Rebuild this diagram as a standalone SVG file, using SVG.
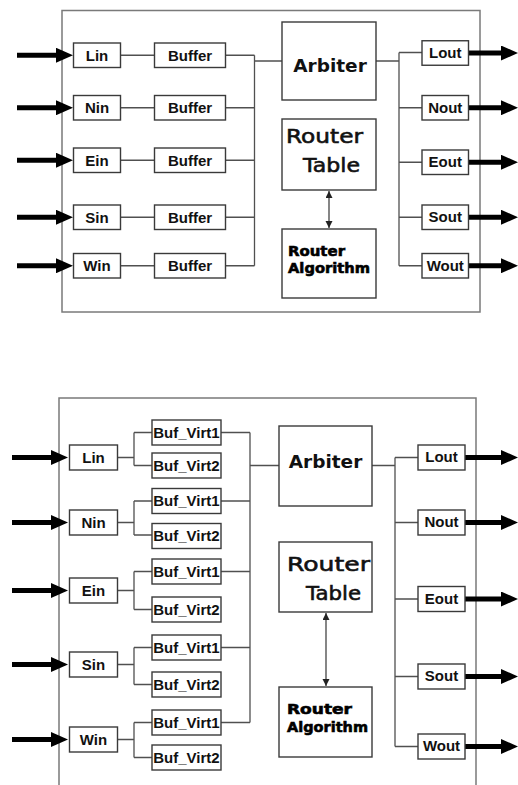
<svg xmlns="http://www.w3.org/2000/svg" width="518" height="785" viewBox="0 0 518 785">
<style>
.frame{fill:none;stroke:#7a7a7a;stroke-width:1.5}
.box{fill:#fff;stroke:#3a3a3a;stroke-width:1.4}
.ln{fill:none;stroke:#505050;stroke-width:1.3}
.big{fill:none;stroke:#000;stroke-width:5}
.dbl{fill:none;stroke:#444;stroke-width:1.3}
.lbl{font-family:"Liberation Sans",Arial,sans-serif;font-weight:bold;font-size:15px;fill:#111;text-anchor:middle}
.arb{font-family:"DejaVu Sans",sans-serif;font-weight:bold;font-size:18.5px;fill:#111;text-anchor:middle}
.rt{font-family:"DejaVu Sans",sans-serif;font-size:20px;fill:#111;stroke:#111;stroke-width:0.6}
.ra{font-family:"DejaVu Sans",sans-serif;font-weight:bold;font-size:14px;fill:#000;stroke:#000;stroke-width:0.6}
</style>
<defs>
<marker id="head" markerUnits="userSpaceOnUse" markerWidth="17" markerHeight="15" viewBox="0 0 17 15" refX="0" refY="7.5" orient="auto"><path d="M0,0 L17,7.5 L0,15 z" fill="#000"/></marker>
<marker id="sm" markerUnits="userSpaceOnUse" markerWidth="7" markerHeight="8" viewBox="0 0 7 8" refX="7" refY="3.5" orient="auto-start-reverse"><path d="M0,0 L7,3.5 L0,7 z" fill="#222"/></marker>
</defs>

<rect class="frame" x="62" y="10.5" width="418" height="301.5"/>
<path class="frame" d="M59,785 V398 H476 V785"/>

<g id="connectors">
<line class="big" x1="17" y1="55.25" x2="56" y2="55.25" marker-end="url(#head)"/>
<line class="big" x1="17" y1="107.75" x2="56" y2="107.75" marker-end="url(#head)"/>
<line class="big" x1="17" y1="160.25" x2="56" y2="160.25" marker-end="url(#head)"/>
<line class="big" x1="17" y1="217.25" x2="56" y2="217.25" marker-end="url(#head)"/>
<line class="big" x1="17" y1="265.75" x2="56" y2="265.75" marker-end="url(#head)"/>
<path class="ln" d="M120.5,55.25H154.5M120.5,107.75H154.5M120.5,160.25H154.5M120.5,217.25H154.5M120.5,265.75H154.5"/>
<path class="ln" d="M225.5,55.25H254.5M225.5,107.75H254.5M225.5,160.25H254.5M225.5,217.25H254.5M225.5,265.75H254.5M254.5,55.25V265.75M254.5,61H282"/>
<line class="dbl" x1="329" y1="191" x2="329" y2="228" marker-start="url(#sm)" marker-end="url(#sm)"/>
<path class="ln" d="M376,61H399M399,52.5V265.75M399,52.5H422M399,107.75H422M399,162.25H422M399,217.25H422M399,265.75H422"/>
<line class="big" x1="468.5" y1="53" x2="501" y2="53" marker-end="url(#head)"/>
<line class="big" x1="468.5" y1="107.75" x2="501" y2="107.75" marker-end="url(#head)"/>
<line class="big" x1="468.5" y1="162.25" x2="501" y2="162.25" marker-end="url(#head)"/>
<line class="big" x1="468.5" y1="217.25" x2="501" y2="217.25" marker-end="url(#head)"/>
<line class="big" x1="468.5" y1="265.75" x2="501" y2="265.75" marker-end="url(#head)"/>

<line class="big" x1="12" y1="457.5" x2="51" y2="457.5" marker-end="url(#head)"/>
<line class="big" x1="12" y1="522.5" x2="51" y2="522.5" marker-end="url(#head)"/>
<line class="big" x1="12" y1="590.5" x2="51" y2="590.5" marker-end="url(#head)"/>
<line class="big" x1="12" y1="664.5" x2="51" y2="664.5" marker-end="url(#head)"/>
<line class="big" x1="12" y1="739.5" x2="51" y2="739.5" marker-end="url(#head)"/>
<path class="ln" d="M117.5,457.5H134M134,432.5V465.5M134,432.5H152M134,465.5H152"/>
<path class="ln" d="M117.5,522.5H134M134,501V535M134,501H152M134,535H152"/>
<path class="ln" d="M117.5,590.5H134M134,571.5V609.5M134,571.5H152M134,609.5H152"/>
<path class="ln" d="M117.5,664.5H134M134,647.5V684.5M134,647.5H152M134,684.5H152"/>
<path class="ln" d="M117.5,739.5H134M134,722.5V757.5M134,722.5H152M134,757.5H152"/>
<path class="ln" d="M221,432.5H250M221,501H250M221,571.5H250M221,647.5H250M221,722.5H250M250,432.5V722.5M250,465.5H279"/>
<line class="dbl" x1="326" y1="613" x2="326" y2="686" marker-start="url(#sm)" marker-end="url(#sm)"/>
<path class="ln" d="M372,465.5H395M395,457.5V746.5M395,457.5H418M395,522.5H418M395,599H418M395,676.5H418M395,746.5H418"/>
<line class="big" x1="465" y1="457.5" x2="501" y2="457.5" marker-end="url(#head)"/>
<line class="big" x1="465" y1="522.5" x2="501" y2="522.5" marker-end="url(#head)"/>
<line class="big" x1="465" y1="599" x2="501" y2="599" marker-end="url(#head)"/>
<line class="big" x1="465" y1="676.5" x2="501" y2="676.5" marker-end="url(#head)"/>
<line class="big" x1="465" y1="746.5" x2="501" y2="746.5" marker-end="url(#head)"/>
</g>

<g id="t_lin"><rect class="box" x="73.5" y="43" width="47" height="24.5"/><text class="lbl" x="97" y="60.5">Lin</text></g>
<g id="t_nin"><rect class="box" x="73.5" y="95.5" width="47" height="24.5"/><text class="lbl" x="97" y="113">Nin</text></g>
<g id="t_ein"><rect class="box" x="73.5" y="148" width="47" height="24.5"/><text class="lbl" x="97" y="165.5">Ein</text></g>
<g id="t_sin"><rect class="box" x="73.5" y="205" width="47" height="24.5"/><text class="lbl" x="97" y="222.5">Sin</text></g>
<g id="t_win"><rect class="box" x="73.5" y="253.5" width="47" height="24.5"/><text class="lbl" x="97" y="271">Win</text></g>
<g id="t_buf1"><rect class="box" x="154.5" y="43" width="71" height="24.5"/><text class="lbl" x="190" y="60.5">Buffer</text></g>
<g id="t_buf2"><rect class="box" x="154.5" y="95.5" width="71" height="24.5"/><text class="lbl" x="190" y="113">Buffer</text></g>
<g id="t_buf3"><rect class="box" x="154.5" y="148" width="71" height="24.5"/><text class="lbl" x="190" y="165.5">Buffer</text></g>
<g id="t_buf4"><rect class="box" x="154.5" y="205" width="71" height="24.5"/><text class="lbl" x="190" y="222.5">Buffer</text></g>
<g id="t_buf5"><rect class="box" x="154.5" y="253.5" width="71" height="24.5"/><text class="lbl" x="190" y="271">Buffer</text></g>
<g id="t_arbiter"><rect class="box" x="282" y="22" width="94" height="78"/><text class="arb" x="330" y="71.5">Arbiter</text></g>
<g id="t_table"><rect class="box" x="282" y="119" width="94" height="71"/><text class="rt" x="286" y="143" textLength="77" lengthAdjust="spacingAndGlyphs">Router</text><text class="rt" x="303" y="171.5" textLength="57" lengthAdjust="spacingAndGlyphs">Table</text></g>
<g id="t_algo"><rect class="box" x="282" y="229" width="94" height="69"/><text class="ra" x="288" y="256" textLength="57" lengthAdjust="spacingAndGlyphs">Router</text><text class="ra" x="288" y="272.5" textLength="82" lengthAdjust="spacingAndGlyphs">Algorithm</text></g>
<g id="t_lout"><rect class="box" x="422" y="40.75" width="46.5" height="24.5"/><text class="lbl" x="445.25" y="57.5">Lout</text></g>
<g id="t_nout"><rect class="box" x="422" y="95.5" width="46.5" height="24.5"/><text class="lbl" x="445.25" y="112.5">Nout</text></g>
<g id="t_eout"><rect class="box" x="422" y="150" width="46.5" height="24.5"/><text class="lbl" x="445.25" y="167">Eout</text></g>
<g id="t_sout"><rect class="box" x="422" y="205" width="46.5" height="24.5"/><text class="lbl" x="445.25" y="222">Sout</text></g>
<g id="t_wout"><rect class="box" x="422" y="253.5" width="46.5" height="24.5"/><text class="lbl" x="445.25" y="270.5">Wout</text></g>

<g id="b_lin"><rect class="box" x="69.5" y="445" width="48" height="25"/><text class="lbl" x="93.5" y="462.5">Lin</text></g>
<g id="b_nin"><rect class="box" x="69.5" y="510" width="48" height="25"/><text class="lbl" x="93.5" y="527.5">Nin</text></g>
<g id="b_ein"><rect class="box" x="69.5" y="578" width="48" height="25"/><text class="lbl" x="93.5" y="595.5">Ein</text></g>
<g id="b_sin"><rect class="box" x="69.5" y="652" width="48" height="25"/><text class="lbl" x="93.5" y="669.5">Sin</text></g>
<g id="b_win"><rect class="box" x="69.5" y="727" width="48" height="25"/><text class="lbl" x="93.5" y="744.5">Win</text></g>
<g id="b_l_v1"><rect class="box" x="152" y="420" width="69" height="25"/><text class="lbl" x="186.5" y="437.5">Buf_Virt1</text></g>
<g id="b_l_v2"><rect class="box" x="152" y="453" width="69" height="25"/><text class="lbl" x="186.5" y="470.5">Buf_Virt2</text></g>
<g id="b_n_v1"><rect class="box" x="152" y="488.5" width="69" height="25"/><text class="lbl" x="186.5" y="506">Buf_Virt1</text></g>
<g id="b_n_v2"><rect class="box" x="152" y="523.5" width="69" height="25"/><text class="lbl" x="186.5" y="541">Buf_Virt2</text></g>
<g id="b_e_v1"><rect class="box" x="152" y="559" width="69" height="25"/><text class="lbl" x="186.5" y="576.5">Buf_Virt1</text></g>
<g id="b_e_v2"><rect class="box" x="152" y="597" width="69" height="25"/><text class="lbl" x="186.5" y="614.5">Buf_Virt2</text></g>
<g id="b_s_v1"><rect class="box" x="152" y="635" width="69" height="25"/><text class="lbl" x="186.5" y="652.5">Buf_Virt1</text></g>
<g id="b_s_v2"><rect class="box" x="152" y="672" width="69" height="25"/><text class="lbl" x="186.5" y="689.5">Buf_Virt2</text></g>
<g id="b_w_v1"><rect class="box" x="152" y="710" width="69" height="25"/><text class="lbl" x="186.5" y="727.5">Buf_Virt1</text></g>
<g id="b_w_v2"><rect class="box" x="152" y="745" width="69" height="25"/><text class="lbl" x="186.5" y="762.5">Buf_Virt2</text></g>
<g id="b_arbiter"><rect class="box" x="279" y="426" width="93" height="80"/><text class="arb" x="325.5" y="468">Arbiter</text></g>
<g id="b_table"><rect class="box" x="279" y="542" width="93" height="70"/><text class="rt" x="287" y="570.5" textLength="83" lengthAdjust="spacingAndGlyphs">Router</text><text class="rt" x="306" y="600" textLength="55" lengthAdjust="spacingAndGlyphs">Table</text></g>
<g id="b_algo"><rect class="box" x="279" y="687" width="93" height="70"/><text class="ra" x="287" y="713.5" textLength="65" lengthAdjust="spacingAndGlyphs">Router</text><text class="ra" x="287" y="731.5" textLength="81" lengthAdjust="spacingAndGlyphs">Algorithm</text></g>
<g id="b_lout"><rect class="box" x="418" y="445" width="47" height="25"/><text class="lbl" x="441.5" y="462">Lout</text></g>
<g id="b_nout"><rect class="box" x="418" y="510" width="47" height="25"/><text class="lbl" x="441.5" y="527">Nout</text></g>
<g id="b_eout"><rect class="box" x="418" y="586.5" width="47" height="25"/><text class="lbl" x="441.5" y="603.5">Eout</text></g>
<g id="b_sout"><rect class="box" x="418" y="664" width="47" height="25"/><text class="lbl" x="441.5" y="681">Sout</text></g>
<g id="b_wout"><rect class="box" x="418" y="734" width="47" height="25"/><text class="lbl" x="441.5" y="751">Wout</text></g>
</svg>
